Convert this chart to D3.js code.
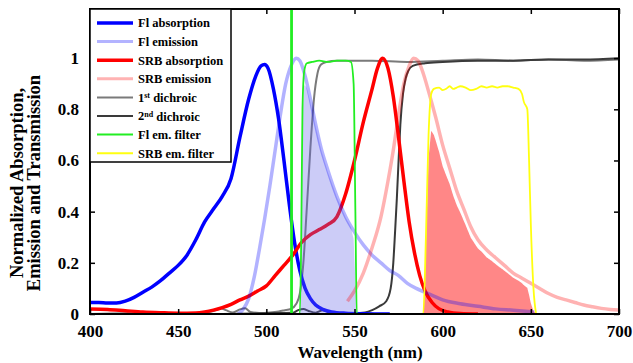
<!DOCTYPE html>
<html><head><meta charset="utf-8">
<script src="https://cdn.jsdelivr.net/npm/d3@7"></script>
<style>
body{margin:0;background:#fff}
text{font-family:"Liberation Serif","Times New Roman","DejaVu Serif",serif;font-weight:bold;fill:#000}
</style>
</head><body>
<svg id="c" width="633" height="363"></svg>
<script>
// ---------- data ----------
const xTicks = [400, 450, 500, 550, 600, 650, 700];
const yTicks = [0, 0.2, 0.4, 0.6, 0.8, 1];
const yTickLabels = ["0", "0.2", "0.4", "0.6", "0.8", "1"];

const flAbs = [[400,0.045],[405,0.045],[410,0.043],[415,0.043],[420,0.05],[425,0.065],[430,0.085],[435,0.105],[440,0.13],[445,0.16],[450,0.19],[455,0.23],[460,0.29],[465,0.36],[470,0.41],[475,0.46],[480,0.53],[485,0.69],[490,0.84],[494,0.93],[497,0.97],[499,0.975],[501,0.96],[504,0.88],[507,0.76],[510,0.6],[513,0.43],[516,0.28],[519,0.17],[522,0.1],[525,0.06],[528,0.035],[532,0.018],[537,0.008],[545,0.003],[555,0.001],[570,0]];

const flEm = [[484,0],[487,0.02],[490,0.06],[493,0.14],[496,0.25],[499,0.37],[502,0.5],[505,0.64],[508,0.78],[511,0.9],[514,0.97],[517,1.0],[519,0.99],[522,0.93],[525,0.84],[528,0.74],[531,0.65],[535,0.56],[540,0.46],[545,0.38],[550,0.32],[555,0.27],[560,0.23],[565,0.2],[570,0.17],[575,0.15],[580,0.12],[585,0.1],[590,0.085],[595,0.07],[600,0.055],[610,0.04],[620,0.03],[630,0.02],[640,0.015],[652,0.008]];

const srbAbs = [[400,0.02],[410,0.018],[420,0.013],[430,0.008],[440,0.005],[450,0.003],[460,0.004],[465,0.008],[470,0.015],[475,0.025],[480,0.038],[485,0.055],[490,0.07],[495,0.09],[500,0.11],[505,0.15],[510,0.19],[515,0.23],[520,0.28],[525,0.31],[530,0.33],[535,0.35],[540,0.38],[545,0.47],[550,0.6],[555,0.75],[560,0.88],[563,0.96],[566,1.0],[569,0.96],[572,0.85],[575,0.69],[578,0.52],[581,0.36],[584,0.24],[587,0.15],[590,0.09],[594,0.045],[598,0.02],[603,0.008],[610,0.002],[620,0]];

const srbEm = [[546,0.05],[550,0.09],[555,0.16],[560,0.26],[565,0.38],[569,0.52],[572,0.64],[575,0.78],[578,0.9],[581,0.97],[583.5,1.0],[586,0.99],[589,0.94],[592,0.87],[596,0.77],[600,0.66],[604,0.57],[608,0.48],[612,0.41],[616,0.34],[620,0.29],[625,0.25],[630,0.22],[635,0.19],[640,0.16],[645,0.14],[650,0.12],[655,0.1],[660,0.08],[665,0.065],[670,0.055],[675,0.045],[680,0.035],[685,0.028],[690,0.022],[695,0.018],[700,0.016]];

const dichroic1 = [[400,0],[420,0.003],[440,0.002],[455,0.003],[465,0.006],[470,0.012],[474,0.022],[477,0.015],[481,0.006],[485,0.018],[488,0.022],[491,0.008],[496,0.004],[502,0.006],[507,0.01],[510,0.014],[514,0.02],[517,0.04],[519,0.08],[521,0.2],[523,0.42],[525,0.65],[527,0.84],[529,0.94],[531,0.975],[534,0.985],[540,0.99],[560,0.99],[580,0.985],[600,0.99],[620,0.995],[640,0.99],[660,0.995],[680,0.99],[700,0.995]];

const dichroic2 = [[400,0],[460,0],[500,0.003],[515,0.005],[518,0.015],[521,0.02],[524,0.012],[528,0.005],[532,0.015],[535,0.008],[540,0.003],[550,0.003],[556,0.006],[560,0.015],[564,0.03],[568,0.05],[570.5,0.1],[572,0.2],[573,0.32],[574,0.45],[575,0.6],[576,0.74],[577.5,0.86],[579,0.92],[580.5,0.95],[583,0.97],[590,0.98],[600,0.985],[620,0.99],[640,0.99],[660,0.995],[680,0.995],[700,1.0]];

const flFilter = [[400,0],[519,0],[519.8,0.3],[520.5,0.8],[521.5,0.95],[523,0.98],[526,0.985],[530,0.99],[535,0.985],[540,0.99],[545,0.99],[548,0.985],[549.5,0.9],[550.5,0.4],[551.3,0],[700,0]];

const srbFilter = [[586,0],[589,0],[590.5,0.3],[592,0.7],[593.5,0.86],[595,0.88],[598,0.885],[600,0.875],[602,0.88],[604,0.89],[606,0.88],[608,0.885],[610,0.89],[613,0.885],[616,0.875],[619,0.88],[622,0.89],[625,0.885],[628,0.89],[631,0.885],[634,0.89],[637,0.89],[640,0.885],[643,0.88],[645,0.86],[646,0.83],[648,0.8],[649,0.6],[650,0.35],[651.5,0.1],[653,0]];

const laserLine = 514.3;

const legendLabels = ["Fl absorption","Fl emission","SRB absorption","SRB emission","1|st| dichroic","2|nd| dichroic","Fl em. filter","SRB em. filter"];

// ---------- layout ----------
const svg = d3.select("#c");
const L = 90, R = 619, T = 9, B = 314;
const x = d3.scaleLinear().domain([400, 700]).range([L, R]);
const y = d3.scaleLinear().domain([0, 1.192]).range([B, T]);
const FONT = '"Liberation Serif","Times New Roman","DejaVu Serif",serif';

svg.append("rect").attr("width", 633).attr("height", 363).attr("fill", "#fff");
svg.append("clipPath").attr("id", "clip").append("rect")
  .attr("x", L).attr("y", T).attr("width", R - L).attr("height", B - T);

const g = svg.append("g").attr("clip-path", "url(#clip)");
const line = d3.line().x(d => x(d[0])).y(d => y(d[1])).curve(d3.curveMonotoneX);

function interp(arr, v) {
  if (v <= arr[0][0] || v >= arr[arr.length - 1][0]) return 0;
  for (let i = 1; i < arr.length; i++) {
    if (v <= arr[i][0]) {
      const a = arr[i - 1], b = arr[i];
      return a[1] + (b[1] - a[1]) * (v - a[0]) / (b[0] - a[0]);
    }
  }
  return 0;
}
function product(a, b, lo, hi) {
  return d3.range(lo, hi + 0.001, 0.25).map(v => [v, interp(a, v) * interp(b, v)]);
}
const area = d3.area().x(d => x(d[0])).y0(y(0)).y1(d => y(d[1]));

const styles = [
  {data: flAbs, color: "#0000ff", w: 3.5, op: 1},
  {data: flEm, color: "#0000ff", w: 3.5, op: 0.3},
  {data: srbAbs, color: "#ff0000", w: 3.5, op: 1},
  {data: srbEm, color: "#ff0000", w: 3.5, op: 0.3},
  {data: dichroic1, color: "#7a7a7a", w: 2, op: 1},
  {data: dichroic2, color: "#3a3a3a", w: 2, op: 1},
  {data: flFilter, color: "#22ee22", w: 1.8, op: 1},
  {data: srbFilter, color: "#ffff10", w: 1.8, op: 1}
];

function drawLine(s) {
  g.append("path").datum(s.data).attr("d", line)
    .attr("fill", "none").attr("stroke", s.color).attr("stroke-width", s.w)
    .attr("stroke-opacity", s.op).attr("stroke-linejoin", "round");
}

drawLine(styles[4]); drawLine(styles[5]);
drawLine(styles[0]); drawLine(styles[2]);
g.append("path").datum(product(flEm, flFilter, 519, 551.3)).attr("d", area)
  .attr("fill", "rgb(100,100,230)").attr("fill-opacity", 0.33);
g.append("path").datum(product(srbEm, srbFilter, 589, 653)).attr("d", area)
  .attr("fill", "#ff0000").attr("fill-opacity", 0.47);
drawLine(styles[1]); drawLine(styles[3]);
drawLine(styles[6]); drawLine(styles[7]);
g.append("line").attr("x1", x(laserLine)).attr("x2", x(laserLine))
  .attr("y1", T).attr("y2", B).attr("stroke", "#22ee22").attr("stroke-width", 2.8);

// ---------- axes ----------
const axB = d3.axisBottom(x).tickValues(xTicks).tickSize(-5).tickPadding(11).tickFormat(d3.format("d"));
const axT = d3.axisTop(x).tickValues(xTicks).tickSize(-5).tickFormat("");
const axLf = d3.axisLeft(y).tickValues(yTicks).tickSize(-5).tickPadding(11).tickFormat((d, i) => yTickLabels[i]);
const axRt = d3.axisRight(y).tickValues(yTicks).tickSize(-5).tickFormat("");

function styleAxis(sel) {
  sel.attr("font-family", FONT);
  sel.select(".domain").remove();
  sel.selectAll(".tick line").attr("stroke", "#000").attr("stroke-width", 1.5);
  sel.selectAll("text").attr("font-size", 17).style("font-family", FONT).style("font-weight", "bold");
}
svg.append("g").attr("transform", `translate(0,${B})`).call(axB).call(styleAxis);
svg.append("g").attr("transform", `translate(0,${T})`).call(axT).call(styleAxis);
svg.append("g").attr("transform", `translate(${L},0)`).call(axLf).call(styleAxis);
svg.append("g").attr("transform", `translate(${R},0)`).call(axRt).call(styleAxis);

svg.append("rect").attr("x", L).attr("y", T).attr("width", R - L).attr("height", B - T)
  .attr("fill", "none").attr("stroke", "#000").attr("stroke-width", 2);

svg.append("text").attr("x", 360).attr("y", 358).attr("text-anchor", "middle")
  .attr("font-size", 17).text("Wavelength (nm)");
const yl = svg.append("text").attr("transform", "translate(0,183) rotate(-90)")
  .attr("text-anchor", "middle").attr("font-size", 18.5);
yl.append("tspan").attr("x", 0).attr("y", 23).text("Normalized Absorption,");
yl.append("tspan").attr("x", 0).attr("y", 40).text("Emission and Transmission");

// ---------- legend ----------
const lg = svg.append("g");
lg.append("rect").attr("x", L).attr("y", T).attr("width", 141).attr("height", 153)
  .attr("fill", "#fff").attr("stroke", "#000").attr("stroke-width", 1.5);
const legendColors = ["#0000ff", "#b3b3ff", "#ff0000", "#ffb3b3", "#7a7a7a", "#3a3a3a", "#22ee22", "#ffff10"];
const legendWidths = [3.5, 3, 3.5, 3, 2, 2, 2, 2];
legendLabels.forEach((lab, i) => {
  const yy = 23 + i * 18.6;
  lg.append("line").attr("x1", 97).attr("x2", 133).attr("y1", yy).attr("y2", yy)
    .attr("stroke", legendColors[i]).attr("stroke-width", legendWidths[i]);
  const t = lg.append("text").attr("x", 138).attr("y", yy).attr("dy", "0.35em").attr("font-size", 12.5);
  const parts = lab.split("|");
  if (parts.length === 1) t.text(lab);
  else {
    t.append("tspan").text(parts[0]);
    t.append("tspan").attr("font-size", 8).attr("dy", "-0.45em").text(parts[1]);
    t.append("tspan").attr("dy", "0.3em").text(parts[2]);
  }
});
</script>
</body></html>
